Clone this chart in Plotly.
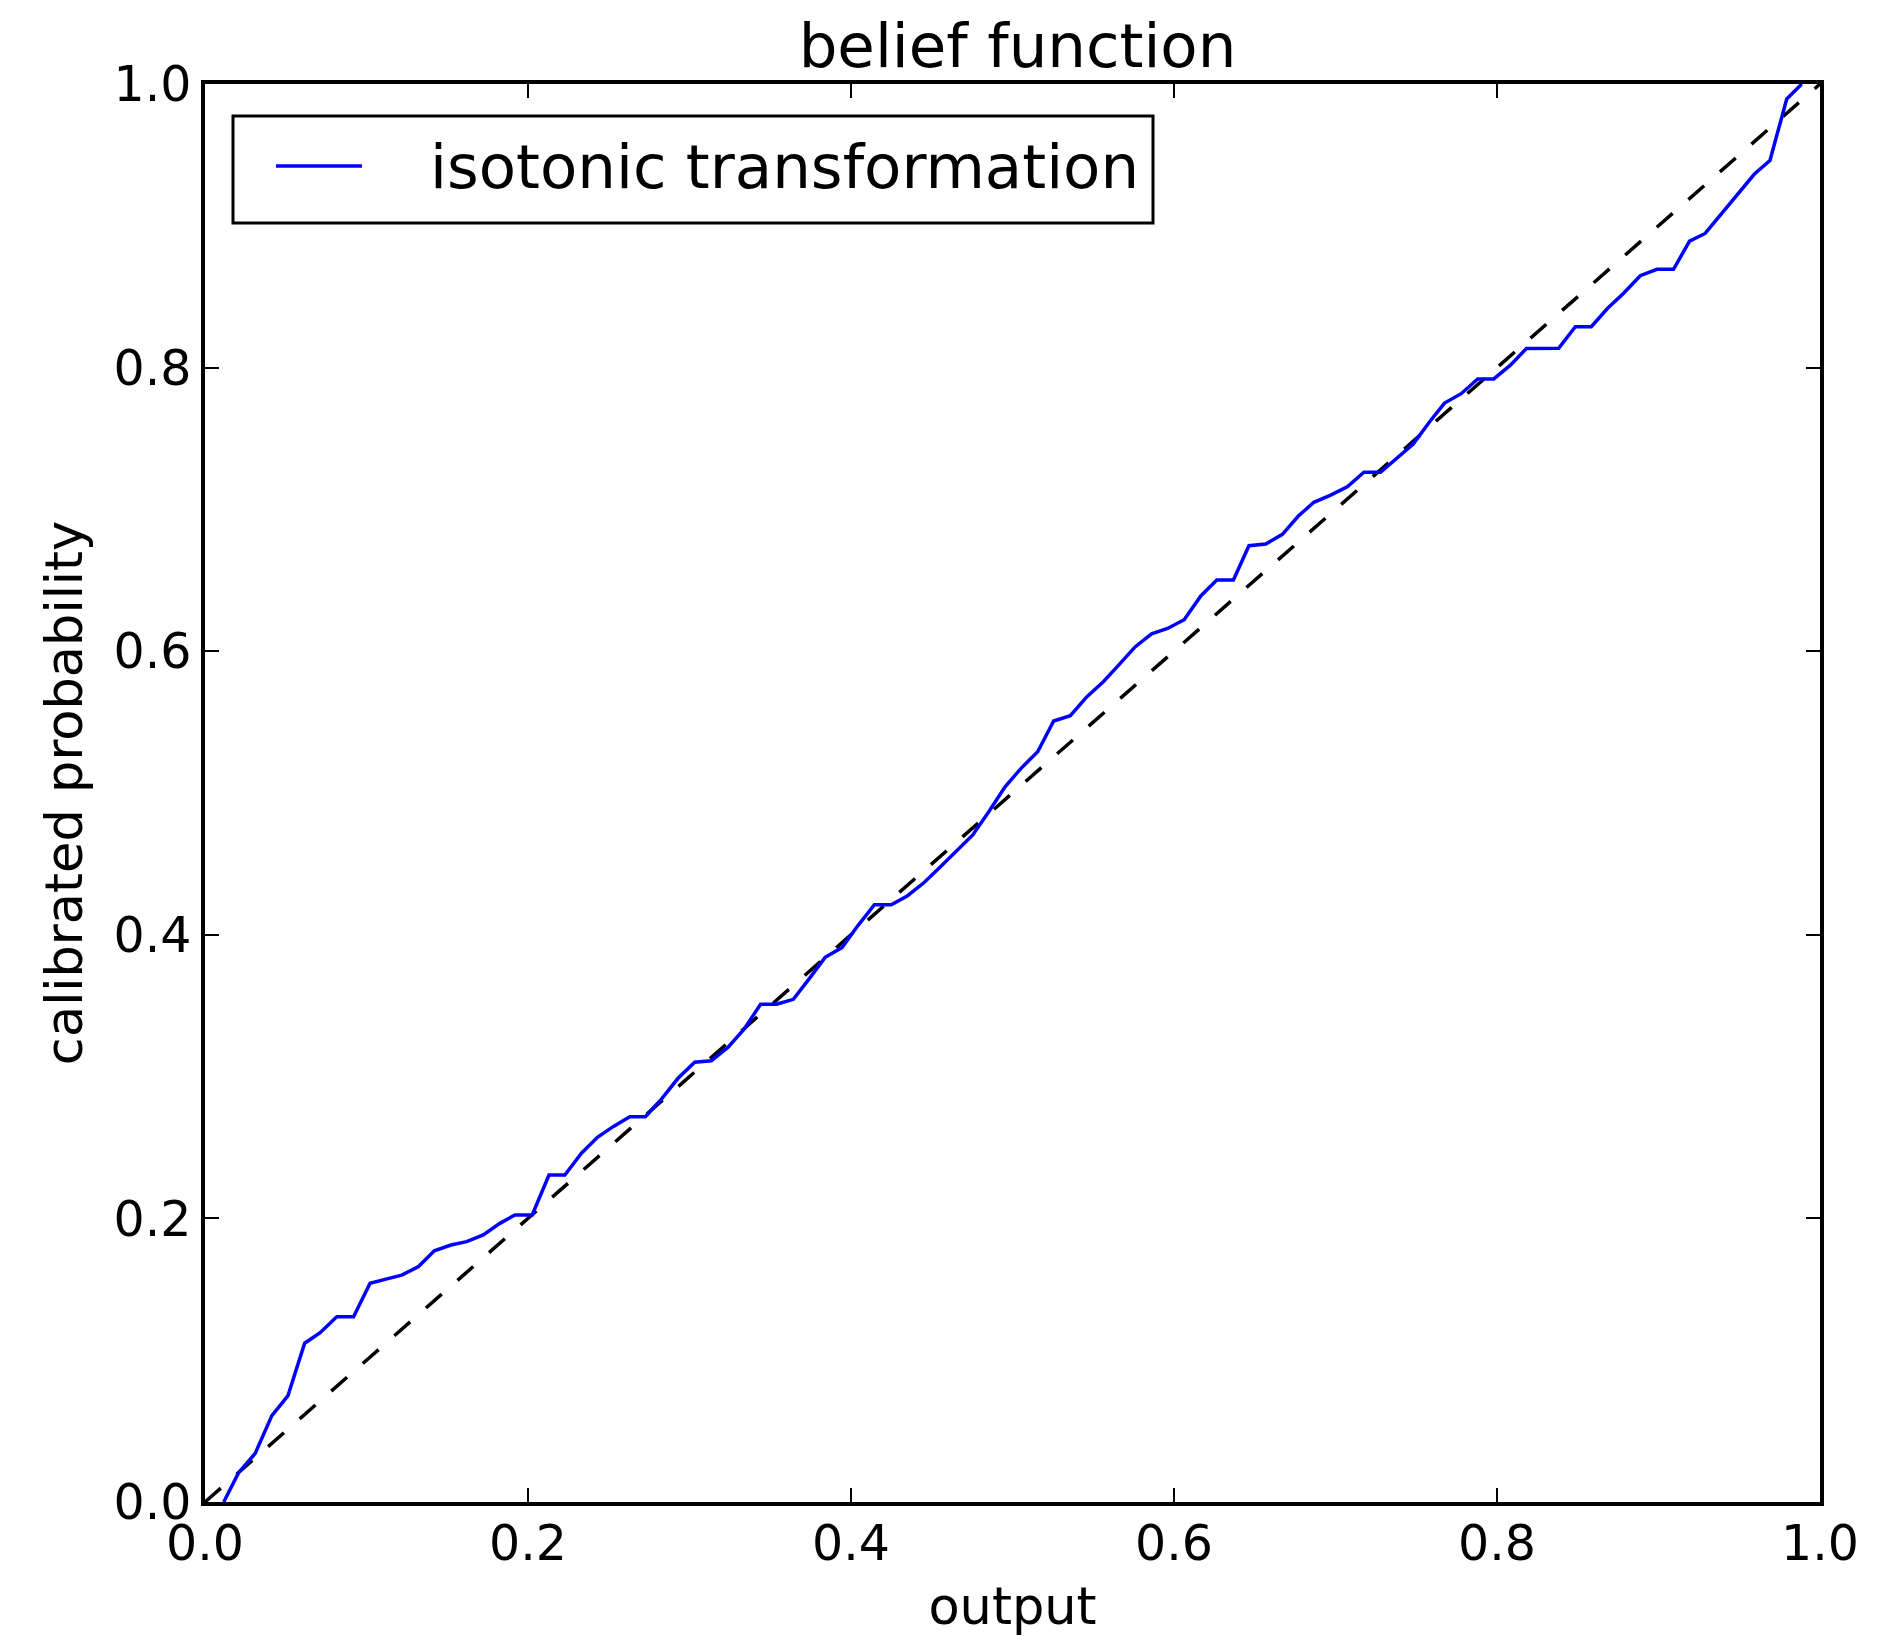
import plotly.graph_objects as go

# Isotonic calibration curve: model output vs calibrated probability
output = [0.0116, 0.0208, 0.0311, 0.0414, 0.0513, 0.0617, 0.0713, 0.0816, 0.0920, 0.1022,
          0.1115, 0.1218, 0.1322, 0.1420, 0.1523, 0.1620, 0.1723, 0.1826, 0.1919, 0.2026,
          0.2130, 0.2228, 0.2331, 0.2430, 0.2527, 0.2630, 0.2727, 0.2830, 0.2929, 0.3032,
          0.3135, 0.3239, 0.3338, 0.3440, 0.3539, 0.3643, 0.3743, 0.3840, 0.3944, 0.4043,
          0.4145, 0.4249, 0.4348, 0.4451, 0.4554, 0.4651, 0.4754, 0.4853, 0.4954, 0.5053,
          0.5156, 0.5255, 0.5358, 0.5461, 0.5564, 0.5660, 0.5759, 0.5861, 0.5960, 0.6063,
          0.6166, 0.6265, 0.6368, 0.6464, 0.6568, 0.6671, 0.6770, 0.6866, 0.6970, 0.7073,
          0.7176, 0.7279, 0.7378, 0.7481, 0.7584, 0.7675, 0.7778, 0.7881, 0.7980, 0.8083,
          0.8182, 0.8280, 0.8382, 0.8485, 0.8584, 0.8685, 0.8784, 0.8887, 0.8990, 0.9093,
          0.9192, 0.9289, 0.9392, 0.9495, 0.9594, 0.9690, 0.9794, 0.9887]

calibrated = [0.0000, 0.0207, 0.0343, 0.0609, 0.0748, 0.1120, 0.1194, 0.1307, 0.1307, 0.1542,
              0.1570, 0.1600, 0.1660, 0.1772, 0.1812, 0.1836, 0.1883, 0.1965, 0.2024, 0.2024,
              0.2306, 0.2306, 0.2460, 0.2572, 0.2647, 0.2717, 0.2717, 0.2847, 0.2988, 0.3101,
              0.3112, 0.3207, 0.3334, 0.3510, 0.3510, 0.3545, 0.3693, 0.3841, 0.3910, 0.4065,
              0.4212, 0.4212, 0.4274, 0.4367, 0.4480, 0.4586, 0.4704, 0.4868, 0.5044, 0.5174,
              0.5291, 0.5508, 0.5545, 0.5679, 0.5786, 0.5905, 0.6030, 0.6122, 0.6160, 0.6222,
              0.6390, 0.6502, 0.6502, 0.6744, 0.6756, 0.6824, 0.6953, 0.7050, 0.7101, 0.7160,
              0.7262, 0.7262, 0.7360, 0.7461, 0.7620, 0.7750, 0.7816, 0.7920, 0.7920, 0.8017,
              0.8134, 0.8134, 0.8136, 0.8288, 0.8288, 0.8418, 0.8524, 0.8648, 0.8693, 0.8693,
              0.8892, 0.8946, 0.9087, 0.9228, 0.9365, 0.9460, 0.9894, 1.0000]

diag = [0.0, 1.0]
tick_vals = [0.0, 0.2, 0.4, 0.6, 0.8, 1.0]
tick_text = ["0.0", "0.2", "0.4", "0.6", "0.8", "1.0"]

FONT = "DejaVu Sans"
W, H = 1891, 1636
L, R, T, B = 205, 71, 84, 134
PW, PH = W - L - R, H - T - B


def px_x(p):
    return (p - L) / PW


def px_y(p):
    return 1 - (p - T) / PH


fig = go.Figure()

fig.add_trace(go.Scatter(
    x=diag, y=diag, mode="lines",
    line=dict(color="black", width=3.5, dash="21px,21px"),
    showlegend=False, hoverinfo="skip",
))

fig.add_trace(go.Scatter(
    x=output, y=calibrated, mode="lines",
    name="isotonic transformation",
    line=dict(color="#0000ff", width=3.5),
    showlegend=False,
))

axis_common = dict(
    range=[0, 1],
    tickmode="array",
    tickvals=tick_vals,
    ticktext=tick_text,
    ticks="inside",
    ticklen=14,
    tickwidth=1.5,
    tickcolor="black",
    showline=True,
    linecolor="black",
    linewidth=3.5,
    mirror="ticks",
    showgrid=False,
    zeroline=False,
    automargin=False,
    tickfont=dict(family=FONT, size=49, color="black"),
    title_font=dict(family=FONT, size=51, color="black"),
)

fig.update_layout(
    width=W, height=H,
    margin=dict(l=L, r=R, t=T, b=B),
    paper_bgcolor="white",
    plot_bgcolor="white",
    title=dict(
        text="belief function",
        font=dict(family=FONT, size=61, color="black"),
        x=0.5 + 5 / PW, xref="paper", xanchor="center",
        y=1 - 46 / H, yref="container", yanchor="middle",
    ),
    xaxis=dict(axis_common, title=dict(text="output", standoff=20)),
    yaxis=dict(axis_common, title=dict(text="calibrated probability", standoff=16)),
)
fig.update_xaxes(ticklabelstandoff=-5)

# Legend box with its line sample and label
fig.add_shape(
    type="rect", xref="paper", yref="paper",
    x0=px_x(233), x1=px_x(1153), y0=px_y(223), y1=px_y(116),
    line=dict(color="black", width=3), fillcolor="white", layer="above",
)
fig.add_shape(
    type="line", xref="paper", yref="paper",
    x0=px_x(276), x1=px_x(362), y0=px_y(166), y1=px_y(166),
    line=dict(color="#0000ff", width=3.5), layer="above",
)
fig.add_annotation(
    text="isotonic transformation", xref="paper", yref="paper",
    x=px_x(428), y=px_y(166), xanchor="left", yanchor="middle",
    showarrow=False, font=dict(family=FONT, size=61, color="black"),
)

fig.write_html("out.html")
